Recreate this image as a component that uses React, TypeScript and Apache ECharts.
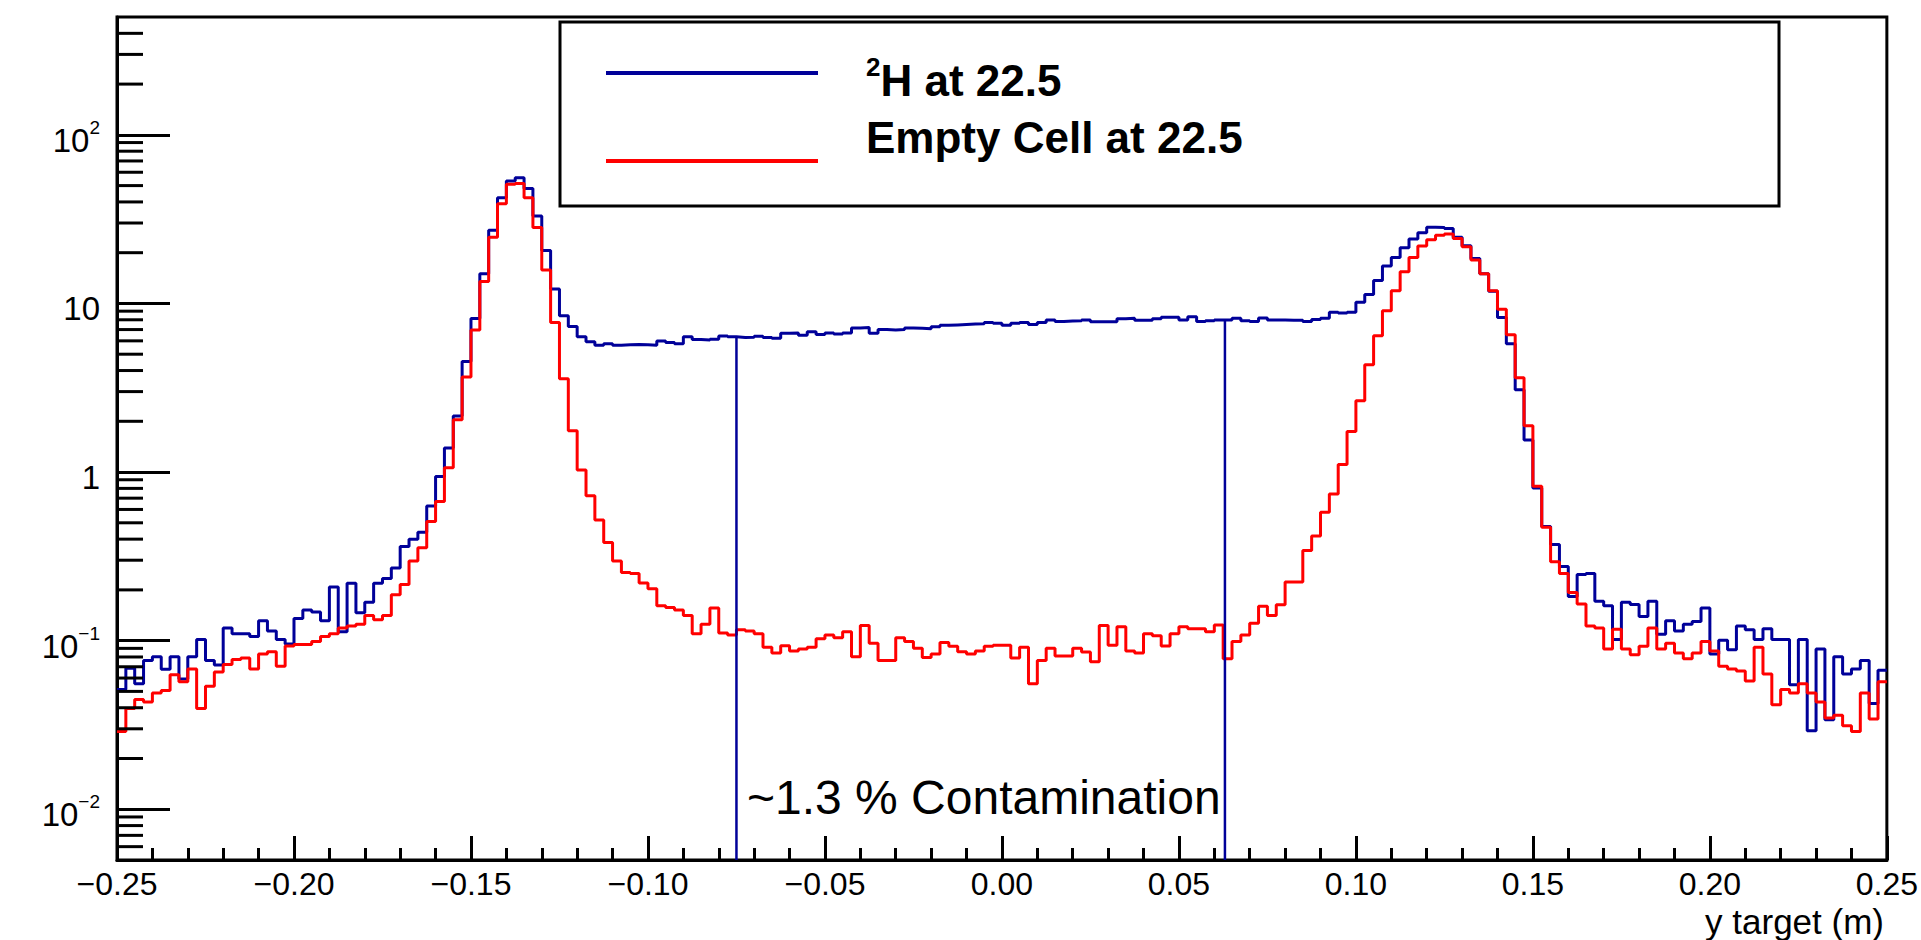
import React, { useEffect, useRef } from 'react';
import * as echarts from 'echarts';

// ---- histogram binning (200 bins from -0.25 to 0.25 m) ----
const BIN_START = -0.25;
const BIN_WIDTH = 0.0025;

// ---- bin contents ----
const H2_AT_22_5 = [
  0.0514, 0.0686, 0.0556, 0.0762, 0.0803, 0.0676, 0.0803, 0.0593, 0.0803, 0.1016,
  0.0762, 0.0716, 0.119, 0.110, 0.110, 0.106, 0.131, 0.114, 0.1016, 0.0955,
  0.1355, 0.152, 0.148, 0.131, 0.208, 0.113, 0.219, 0.1466, 0.169, 0.219,
  0.234, 0.270, 0.362, 0.400, 0.440, 0.628, 0.94, 1.39, 2.15, 4.52,
  8.15, 15.0, 27.2, 42.4, 53.3, 55.6, 48.1, 33.0, 20.6, 12.2,
  8.46, 7.31, 6.34, 5.93, 5.65, 5.77, 5.65, 5.69, 5.71, 5.69,
  5.65, 5.99, 5.87, 5.77, 6.34, 6.11, 6.08, 6.14, 6.41, 6.34,
  6.28, 6.31, 6.38, 6.28, 6.21, 6.65, 6.68, 6.48, 6.79, 6.55,
  6.68, 6.58, 6.68, 7.16, 7.19, 6.65, 7.00, 6.97, 7.00, 7.16,
  7.12, 7.08, 7.27, 7.42, 7.46, 7.50, 7.54, 7.58, 7.70, 7.62,
  7.42, 7.62, 7.70, 7.50, 7.70, 7.98, 7.82, 7.86, 7.90, 7.98,
  7.78, 7.78, 7.78, 8.11, 8.16, 7.94, 7.94, 8.11, 8.28, 8.28,
  7.98, 8.33, 7.82, 7.90, 7.98, 7.98, 8.16, 7.90, 7.82, 8.20,
  7.98, 7.98, 7.94, 7.94, 7.82, 8.03, 8.16, 8.87, 8.78, 8.87,
  10.16, 11.3, 13.7, 16.7, 18.7, 21.4, 24.1, 26.3, 28.3, 28.2,
  27.8, 24.7, 22.0, 18.5, 15.0, 11.8, 8.24, 5.77, 3.08, 1.55,
  0.803, 0.475, 0.372, 0.275, 0.183, 0.247, 0.250, 0.171, 0.161, 0.1016,
  0.169, 0.164, 0.139, 0.171, 0.109, 0.131, 0.114, 0.125, 0.130, 0.156,
  0.0832, 0.1005, 0.0882, 0.122, 0.116, 0.1016, 0.1175, 0.1016, 0.1016, 0.0548,
  0.1016, 0.0292, 0.0891, 0.0339, 0.0803, 0.0634, 0.0679, 0.0762, 0.0424, 0.0668,
];

const EMPTY_AT_22_5 = [
  0.0289, 0.0396, 0.0447, 0.0433, 0.0489, 0.0507, 0.0628, 0.0571, 0.0679, 0.0396,
  0.0537, 0.0652, 0.0723, 0.0774, 0.079, 0.0679, 0.0832, 0.0859, 0.0705, 0.0929,
  0.0949, 0.0949, 0.0989, 0.106, 0.110, 0.119, 0.122, 0.125, 0.141, 0.133,
  0.141, 0.187, 0.215, 0.297, 0.356, 0.509, 0.668, 1.06, 2.04, 3.66,
  6.97, 13.5, 24.7, 39.0, 50.9, 51.4, 42.4, 28.2, 15.8, 7.70,
  3.57, 1.76, 1.03, 0.723, 0.520, 0.382, 0.297, 0.254, 0.250, 0.220,
  0.203, 0.161, 0.157, 0.152, 0.141, 0.110, 0.125, 0.156, 0.111, 0.108,
  0.116, 0.114, 0.110, 0.0914, 0.0846, 0.0934, 0.0868, 0.0891, 0.0914, 0.1026,
  0.108, 0.104, 0.113, 0.0803, 0.123, 0.0964, 0.0762, 0.0762, 0.104, 0.0989,
  0.0901, 0.0794, 0.0832, 0.0975, 0.0925, 0.0859, 0.0832, 0.0868, 0.0925, 0.094,
  0.094, 0.079, 0.0914, 0.0556, 0.0762, 0.0901, 0.0811, 0.0811, 0.0901, 0.0855,
  0.0750, 0.123, 0.094, 0.121, 0.0868, 0.0846, 0.110, 0.107, 0.0929, 0.110,
  0.121, 0.1175, 0.1175, 0.113, 0.124, 0.0782, 0.0989, 0.108, 0.127, 0.160,
  0.141, 0.163, 0.223, 0.223, 0.342, 0.417, 0.577, 0.741, 1.11, 1.74,
  2.65, 4.33, 6.44, 9.05, 11.9, 15.4, 18.7, 21.9, 23.9, 25.4,
  25.8, 24.3, 21.7, 18.1, 15.0, 11.9, 9.25, 6.52, 3.62, 1.88,
  0.824, 0.471, 0.294, 0.250, 0.193, 0.165, 0.122, 0.119, 0.0891, 0.117,
  0.0891, 0.0824, 0.0925, 0.119, 0.0891, 0.0964, 0.0846, 0.0782, 0.0846, 0.0989,
  0.0868, 0.0705, 0.0679, 0.0661, 0.0577, 0.0914, 0.0634, 0.0417, 0.0514, 0.0489,
  0.0556, 0.0489, 0.0433, 0.0348, 0.0361, 0.0313, 0.0289, 0.0489, 0.0343, 0.0571,
];

// vertical cut lines and where they stop (on the 2H histogram)
const CUT_X = [-0.075, 0.063];
const CUT_TOP = [6.4, 7.95];

// axes
const X_MIN = -0.25;
const X_MAX = 0.25;
const X_INTERVAL = 0.05;
const Y_MIN = 0.005;
const Y_MAX = 500;
const Y_MINOR_TICKS = [
  0.006, 0.007, 0.008, 0.009,
  0.02, 0.03, 0.04, 0.05, 0.06, 0.07, 0.08, 0.09,
  0.2, 0.3, 0.4, 0.5, 0.6, 0.7, 0.8, 0.9,
  2, 3, 4, 5, 6, 7, 8, 9,
  20, 30, 40, 50, 60, 70, 80, 90,
  200, 300, 400,
];

// texts
const SERIES_NAMES = ['²H at 22.5', 'Empty Cell at 22.5'];
const LEGEND_RICH = ['{s|2}{b|H at 22.5}', '{b|Empty Cell at 22.5}'];
const ANNOTATION = '~1.3 % Contamination';
const X_TITLE = 'y target (m)';

const BLUE = '#000099';
const RED = '#ff0000';
const FONT = '"Liberation Sans", Arial, Helvetica, sans-serif';

function toSteps(vals: number[]): number[][] {
  const pts = vals.map((v, i) => [BIN_START + i * BIN_WIDTH, v]);
  pts.push([BIN_START + vals.length * BIN_WIDTH, vals[vals.length - 1]]);
  return pts;
}

function xLabel(v: number): string {
  if (Math.abs(v) < 1e-9) return '0.00';
  return (v < 0 ? '\u2212' : '') + Math.abs(v).toFixed(2);
}

function yLabel(v: number): string {
  const l = Math.log10(v);
  const e = Math.round(l);
  if (Math.abs(l - e) > 1e-6) return '';
  if (e === 0) return '{b|1}';
  if (e === 1) return '{b|10}';
  return '{b|10}{s|' + (e < 0 ? '\u2212' : '') + Math.abs(e) + '}';
}

export default function App() {
  const ref = useRef<HTMLDivElement>(null);

  useEffect(() => {
    if (!ref.current) return;
    const chart = echarts.init(ref.current, undefined, { renderer: 'svg' });

    const axisLine = { show: true, onZero: false, lineStyle: { color: '#000', width: 3 } };

    const option: any = {
      animation: false,
      backgroundColor: '#fff',
      grid: {
        left: 117,
        right: 33,
        top: 17,
        bottom: 80,
        show: true,
        borderColor: '#000',
        borderWidth: 3,
        backgroundColor: 'transparent',
      },
      xAxis: {
        type: 'value',
        min: X_MIN,
        max: X_MAX,
        interval: X_INTERVAL,
        axisLine,
        axisTick: { show: true, inside: true, length: 24, lineStyle: { color: '#000', width: 3 } },
        minorTick: { show: true, splitNumber: 5, length: 12, lineStyle: { color: '#000', width: 3 } },
        splitLine: { show: false },
        minorSplitLine: { show: false },
        axisLabel: {
          formatter: xLabel,
          color: '#000',
          fontSize: 32,
          lineHeight: 26,
          fontFamily: FONT,
          margin: 11,
        },
      },
      yAxis: {
        type: 'log',
        logBase: 10,
        min: Y_MIN,
        max: Y_MAX,
        axisLine,
        axisTick: { show: true, inside: true, length: 53, lineStyle: { color: '#000', width: 3 } },
        splitLine: { show: false },
        axisLabel: {
          formatter: yLabel,
          showMinLabel: false,
          showMaxLabel: false,
          margin: 17,
          padding: [11, 0, 0, 0],
          color: '#000',
          rich: {
            b: { fontSize: 33, lineHeight: 45, fontFamily: FONT, color: '#000', verticalAlign: 'middle' },
            s: { fontSize: 19, lineHeight: 18, fontFamily: FONT, color: '#000', verticalAlign: 'top' },
          },
        },
      },
      series: [
        {
          name: SERIES_NAMES[0],
          type: 'line',
          step: 'end',
          data: toSteps(H2_AT_22_5),
          showSymbol: false,
          symbol: 'none',
          lineStyle: { color: BLUE, width: 3 },
          itemStyle: { color: BLUE },
          clip: true,
          z: 3,
        },
        {
          name: SERIES_NAMES[1],
          type: 'line',
          step: 'end',
          data: toSteps(EMPTY_AT_22_5),
          showSymbol: false,
          symbol: 'none',
          lineStyle: { color: RED, width: 3 },
          itemStyle: { color: RED },
          clip: true,
          z: 4,
        },
        ...CUT_X.map((x, i) => ({
          name: 'cut' + i,
          type: 'line',
          data: [
            [x, Y_MIN],
            [x, CUT_TOP[i]],
          ],
          showSymbol: false,
          symbol: 'none',
          lineStyle: { color: BLUE, width: 2.5 },
          z: 5,
        })),
        {
          name: 'yMinorTicks',
          type: 'custom',
          silent: true,
          data: Y_MINOR_TICKS.map((v) => [X_MIN, v]),
          encode: { x: 0, y: 1 },
          renderItem: (_params: any, api: any) => {
            const p = api.coord([api.value(0), api.value(1)]);
            return {
              type: 'line',
              shape: { x1: p[0], y1: p[1], x2: p[0] + 26, y2: p[1] },
              style: { stroke: '#000', lineWidth: 3 },
            };
          },
          z: 6,
        },
      ],
      graphic: [
        {
          type: 'rect',
          shape: { x: 560, y: 22, width: 1219, height: 184 },
          style: { fill: '#fff', stroke: '#000', lineWidth: 3 },
          z: 100,
        },
        {
          type: 'line',
          shape: { x1: 606, y1: 73, x2: 818, y2: 73 },
          style: { stroke: BLUE, lineWidth: 4 },
          z: 101,
        },
        {
          type: 'line',
          shape: { x1: 606, y1: 161, x2: 818, y2: 161 },
          style: { stroke: RED, lineWidth: 4 },
          z: 101,
        },
        {
          type: 'text',
          x: 866,
          y: 80,
          z: 101,
          style: {
            text: LEGEND_RICH[0],
            verticalAlign: 'middle',
            rich: {
              b: { fontSize: 44, fontWeight: 'bold', fontFamily: FONT, fill: '#000', lineHeight: 52, verticalAlign: 'middle' },
              s: { fontSize: 26, fontWeight: 'bold', fontFamily: FONT, fill: '#000', lineHeight: 26, verticalAlign: 'top' },
            },
          },
        },
        {
          type: 'text',
          x: 866,
          y: 137,
          z: 101,
          style: {
            text: LEGEND_RICH[1],
            verticalAlign: 'middle',
            rich: {
              b: { fontSize: 44, fontWeight: 'bold', fontFamily: FONT, fill: '#000', lineHeight: 52, verticalAlign: 'middle' },
            },
          },
        },
        {
          type: 'text',
          x: 747,
          y: 797,
          z: 101,
          style: {
            text: ANNOTATION,
            fontSize: 48,
            fontFamily: FONT,
            fill: '#000',
            verticalAlign: 'middle',
            align: 'left',
          },
        },
        {
          type: 'text',
          x: 1884,
          y: 921,
          z: 101,
          style: {
            text: X_TITLE,
            fontSize: 35,
            lineHeight: 30,
            fontFamily: FONT,
            fill: '#000',
            verticalAlign: 'middle',
            align: 'right',
          },
        },
      ],
    };

    chart.setOption(option);
    return () => {
      chart.dispose();
    };
  }, []);

  return (
    <div
      ref={ref}
      style={{ position: 'fixed', left: 0, top: 0, width: 1921, height: 940, background: '#fff' }}
    />
  );
}
